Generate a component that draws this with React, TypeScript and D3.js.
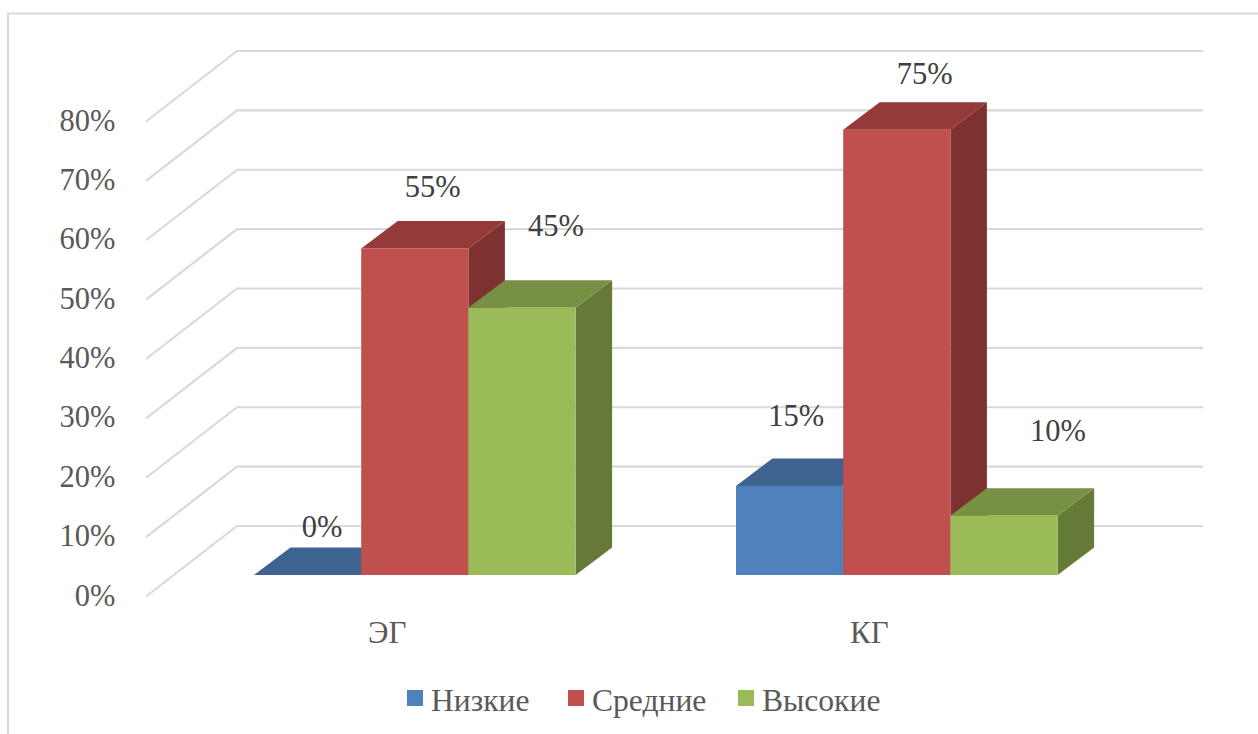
import React from "react";
import * as d3 from "d3";

const categories = ["ЭГ", "КГ"];
const seriesNames = ["Низкие", "Средние", "Высокие"];
const nizkie = [0, 15];
const srednie = [55, 75];
const vysokie = [45, 10];
const ticks = [0, 10, 20, 30, 40, 50, 60, 70, 80];

const seriesValues = [nizkie, srednie, vysokie];
const front = ["#4F81BD", "#C0504D", "#9BBB59"];
const top = ["#3E6390", "#943A38", "#789043"];
const side = ["#355480", "#7D3230", "#657A37"];

// label nudges [series][category] relative to the bar's front-top centre
const labelDx = [[14.5, 6.5], [18, 28], [34, 54]];
const labelDy = [[-38, -60], [-51, -46], [-72, -75]];

const W = 1258, H = 734;
const depthX = 36.5, depthY = 27.5;
const gridFrontX = 146, gridBackX = 237, gridEndX = 1203, gridFrontY0 = 596.5, gridBackY0 = 526;
const font = "'Liberation Serif', serif";

export default function App() {
  const unit = d3.scaleLinear().domain([0, 80]).range([0, -475]);
  const y = (v: number) => 575 + unit(v);
  const x0 = d3.scaleBand<string>().domain(categories).range([254, 1057.6]).paddingInner(0.3328).paddingOuter(0);
  const x1 = d3.scaleBand<string>().domain(seriesNames).range([0, x0.bandwidth()]);
  const poly = (pts: [number, number][]) => d3.line()(pts) + "Z";

  return (
    <svg width={W} height={H} style={{ position: "absolute", left: 0, top: 0, display: "block", background: "#fff" }} fontFamily={font}>
      <path d={`M${W},13.5H8V${H}`} fill="none" stroke="#D9D9D9" strokeWidth={2} />
      {ticks.map((t) => (
        <g key={t}>
          <path
            d={d3.line()([
              [gridFrontX, gridFrontY0 + unit(t)],
              [gridBackX, gridBackY0 + unit(t)],
              [gridEndX, gridBackY0 + unit(t)],
            ]) as string}
            fill="none"
            stroke="#D9D9D9"
            strokeWidth={2.2}
          />
          <text x={115.5} y={gridFrontY0 + unit(t) + 9} textAnchor="end" fontSize={30.5} fill="#595959">
            {t}%
          </text>
        </g>
      ))}
      {categories.map((c, ci) => (
        <g key={c}>
          {seriesNames.map((s, si) => {
            const v = seriesValues[si][ci];
            const xL = (x0(c) as number) + (x1(s) as number);
            const xR = xL + x1.bandwidth();
            const yT = y(v);
            const yB = y(0);
            return (
              <g key={s}>
                {v > 0 && <path d={poly([[xR, yT], [xR + depthX, yT - depthY], [xR + depthX, yB - depthY], [xR, yB]])} fill={side[si]} />}
                <path d={poly([[xL, yT], [xL + depthX, yT - depthY], [xR + depthX, yT - depthY], [xR, yT]])} fill={top[si]} />
                {v > 0 && <rect x={xL} y={yT} width={x1.bandwidth()} height={yB - yT} fill={front[si]} />}
              </g>
            );
          })}
        </g>
      ))}
      {categories.map((c, ci) =>
        seriesNames.map((s, si) => {
          const v = seriesValues[si][ci];
          const cx = (x0(c) as number) + (x1(s) as number) + x1.bandwidth() / 2;
          return (
            <text key={c + s} x={cx + labelDx[si][ci]} y={y(v) + labelDy[si][ci]} textAnchor="middle" fontSize={30.5} fill="#404040">
              {v}%
            </text>
          );
        })
      )}
      {categories.map((c) => (
        <text key={c} x={(x0(c) as number) + x0.bandwidth() / 2 - 27.5} y={642.5} textAnchor="middle" fontSize={31} fill="#595959">
          {c}
        </text>
      ))}
      {seriesNames.map((s, i) => {
        const lx = [407, 568, 738][i];
        return (
          <g key={s}>
            <rect x={lx} y={690} width={16} height={16} fill={front[i]} />
            <text x={lx + 24} y={711} fontSize={31.6} fill="#595959">
              {s}
            </text>
          </g>
        );
      })}
    </svg>
  );
}
